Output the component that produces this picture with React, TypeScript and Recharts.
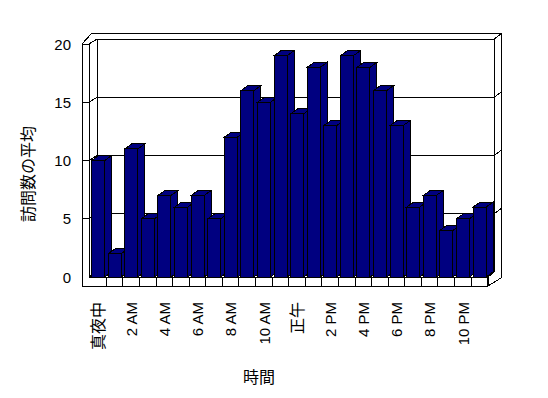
import { BarChart, Bar, XAxis, YAxis, CartesianGrid, Customized } from "recharts";

const hours: string[] = [
  "真夜中", "1 AM", "2 AM", "3 AM", "4 AM", "5 AM", "6 AM", "7 AM",
  "8 AM", "9 AM", "10 AM", "11 AM", "正午", "1 PM", "2 PM", "3 PM",
  "4 PM", "5 PM", "6 PM", "7 PM", "8 PM", "9 PM", "10 PM", "11 PM",
];
const visits: number[] = [
  10, 2, 11, 5, 7, 6, 7, 5, 12, 16, 15, 19, 14, 18, 13, 19, 18, 16, 13, 6, 7, 4, 5, 6,
];
const yTicks: number[] = [0, 5, 10, 15, 20];

const W = 548;
const H = 398;
const LEFT = 90;
const RIGHT = 488;
const TOP = 44;
const BOTTOM = 277;
const DX = 7;
const DY = -5;
const NAVY = "#000080";
const FONT = "'Liberation Sans', 'Noto Sans CJK JP', sans-serif";

const data = hours.map((h, i) => ({ hour: h, visits: visits[i] }));

const seg = (a: number[], key: string) => (
  <line key={key} x1={a[0]} y1={a[1]} x2={a[2]} y2={a[3]} stroke="#000" strokeWidth={1} />
);

// back wall / side walls / floor, drawn behind the bars
const gridLine = (p: any) => {
  const { x1, x2, y1, index } = p;
  const yb = y1 + DY;
  const k = `gl-${index}-${y1}`;
  const out = [
    seg([x1 + DX, yb, x2 + 6, yb], k + "a"),
    seg([x1 - 1, y1, x1 + DX, yb], k + "b"),
  ];
  if (y1 < BOTTOM - 1) {
    out.push(seg([x1 - 8, y1, x1 - 1, y1], k + "c"));
    out.push(seg([x2 + 6, yb, x2 + 13, yb - 5], k + "d"));
  }
  if (!index) {
    out.push(seg([LEFT - 8, TOP, LEFT - 8, BOTTOM + 9], k + "e"));
    out.push(seg([LEFT - 1, TOP, LEFT - 1, BOTTOM], k + "f"));
    out.push(seg([LEFT + DX, TOP + DY, LEFT + DX, BOTTOM + DY], k + "g"));
    out.push(seg([RIGHT + 6, TOP + DY, RIGHT + 6, BOTTOM + DY], k + "h"));
    out.push(seg([RIGHT + 13, TOP - 11, RIGHT + 13, BOTTOM + 1], k + "i"));
    out.push(seg([LEFT - 8, TOP, LEFT + 2, TOP - 11], k + "j"));
    out.push(seg([LEFT + 2, TOP - 11, RIGHT + 13, TOP - 11], k + "k"));
    out.push(seg([LEFT - 1, BOTTOM, RIGHT, BOTTOM], k + "l"));
    out.push(seg([LEFT - 8, BOTTOM + 9, RIGHT, BOTTOM + 9], k + "m"));
    out.push(seg([RIGHT, BOTTOM, RIGHT, BOTTOM + 9], k + "n"));
    out.push(seg([RIGHT, BOTTOM + 9, RIGHT + 13, BOTTOM + 1], k + "o"));
    out.push(seg([RIGHT, BOTTOM, RIGHT + 6, BOTTOM + DY], k + "p"));
  }
  return <g key={k}>{out}</g>;
};

const Bar3D = (p: any) => {
  const { x, y, width, height } = p;
  const b = y + height;
  const r = x + width;
  const sep = r + width / 8;
  return (
    <g>
      <polygon
        points={`${r},${b} ${r + DX},${b + DY} ${r + DX},${y + DY} ${r},${y}`}
        fill={NAVY}
        stroke="#000"
      />
      <polygon
        points={`${x},${y} ${x + DX},${y + DY} ${r + DX},${y + DY} ${r},${y}`}
        fill={NAVY}
        stroke="#000"
      />
      <rect x={x} y={y} width={width} height={height} fill={NAVY} stroke="#000" />
      <line x1={sep} y1={b} x2={sep} y2={b + 9} stroke="#000" />
    </g>
  );
};

const YTick = (p: any) => (
  <text x={71} y={p.y} textAnchor="end" dominantBaseline="central" fontSize={15} fontFamily={FONT} style={{ fill: "#000" }}>
    {p.payload.value}
  </text>
);

const XTick = (p: any) => {
  const label: string = p.payload.value;
  const cjk = /[^\x00-\x7f]/.test(label);
  return (
    <text
      x={p.x}
      y={302}
      transform={`rotate(-90, ${p.x}, 302)`}
      textAnchor="end"
      dominantBaseline="central"
      fontSize={cjk ? 16 : 15}
      fontFamily={FONT}
      style={{ fill: "#000" }}
    >
      {label}
    </text>
  );
};

const Labels = () => (
  <g>
    <text
      x={28}
      y={174}
      transform="rotate(-90, 28, 174)"
      textAnchor="middle"
      dominantBaseline="central"
      fontSize={16}
      fontFamily={FONT}
      style={{ fill: "#000" }}
    >
      訪問数の平均
    </text>
    <text x={259} y={377} textAnchor="middle" dominantBaseline="central" fontSize={16} fontFamily={FONT} style={{ fill: "#000" }}>
      時間
    </text>
  </g>
);

export default function App() {
  return (
    <div style={{ position: "absolute", left: 0, top: 0, background: "#fff", shapeRendering: "crispEdges" }}>
      <BarChart
        width={W}
        height={H}
        data={data}
        margin={{ top: TOP, right: W - RIGHT, bottom: 0, left: 0 }}
        barCategoryGap="10%"
      >
        <CartesianGrid vertical={false} horizontal={gridLine} />
        <XAxis
          dataKey="hour"
          height={H - BOTTOM}
          interval={1}
          axisLine={false}
          tickLine={false}
          tick={<XTick />}
        />
        <YAxis
          width={LEFT}
          domain={[0, 20]}
          ticks={yTicks}
          axisLine={false}
          tickLine={false}
          tick={<YTick />}
        />
        <Bar dataKey="visits" shape={<Bar3D />} isAnimationActive={false} />
        <Customized component={<Labels />} />
      </BarChart>
    </div>
  );
}
